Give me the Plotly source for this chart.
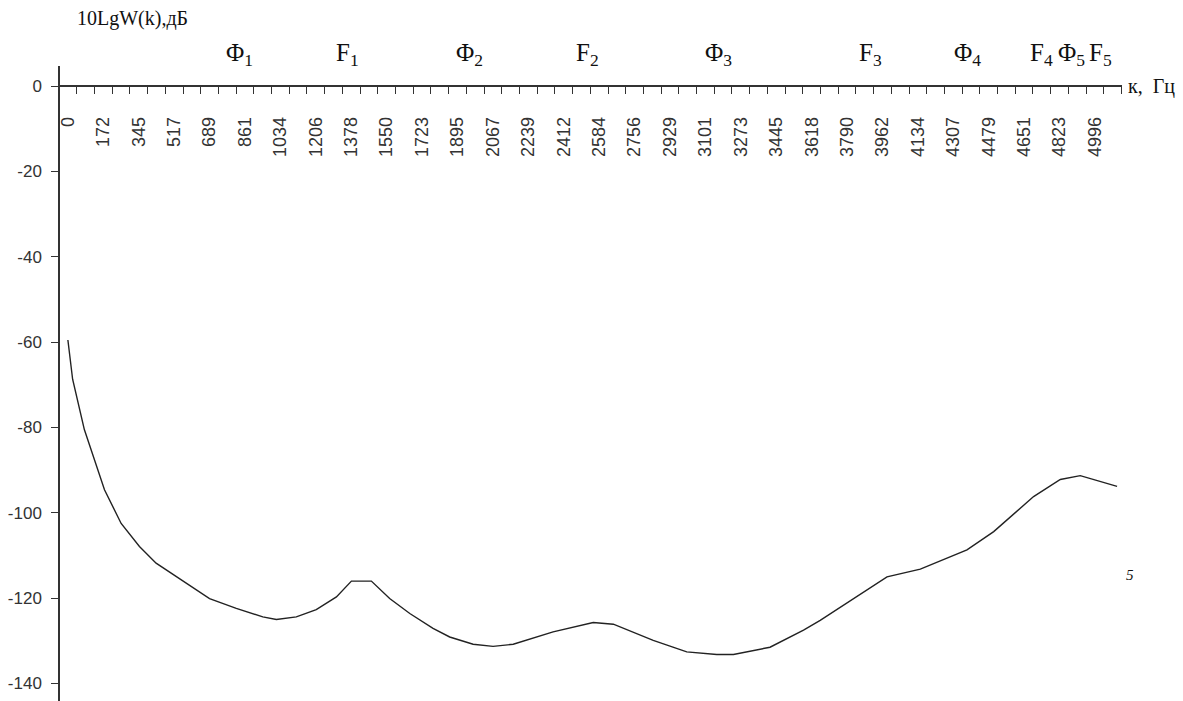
import plotly.graph_objects as go

# ---- data ----
freq_hz = [0, 23, 80, 178, 259, 348, 429, 527, 689, 819, 948, 1014, 1111, 1208, 1306,
           1379, 1476, 1565, 1663, 1776, 1857, 1971, 2068, 2166, 2360, 2555, 2653, 2847,
           3010, 3156, 3237, 3415, 3578, 3659, 3837, 3984, 4146, 4373, 4503, 4616, 4697,
           4827, 4924, 5103]
level_db = [-59.5, -68.7, -80.5, -94.6, -102.5, -107.9, -111.8, -115.0, -120.1, -122.4,
            -124.4, -125.0, -124.4, -122.7, -119.7, -116.0, -116.0, -120.1, -123.6, -127.1,
            -129.1, -130.8, -131.3, -130.8, -127.9, -125.7, -126.1, -129.9, -132.6, -133.2,
            -133.2, -131.5, -127.5, -125.2, -119.7, -115.0, -113.2, -108.7, -104.4, -99.7,
            -96.2, -92.2, -91.3, -93.8]

x_tick_labels = ["0", "172", "345", "517", "689", "861", "1034", "1206", "1378", "1550",
                 "1723", "1895", "2067", "2239", "2412", "2584", "2756", "2929", "3101",
                 "3273", "3445", "3618", "3790", "3962", "4134", "4307", "4479", "4651",
                 "4823", "4996"]
y_tick_labels = ["0", "-20", "-40", "-60", "-80", "-100", "-120", "-140"]

formant_names = ["Φ<sub>1</sub>", "F<sub>1</sub>", "Φ<sub>2</sub>", "F<sub>2</sub>",
                 "Φ<sub>3</sub>", "F<sub>3</sub>", "Φ<sub>4</sub>", "F<sub>4</sub>",
                 "Φ<sub>5</sub>", "F<sub>5</sub>"]
formant_hz = [835, 1361, 1955, 2529, 3162, 3902, 4377, 4735, 4881, 5022]

Y_MIN, Y_MAX = -144.1, 4.7
X_MIN, X_MAX = -38.4, 5127

fig = go.Figure()
fig.add_trace(go.Scatter(x=freq_hz, y=level_db, mode="lines",
                         line=dict(color="#222222", width=1.4), hoverinfo="skip"))

x_font = dict(family="Liberation Sans, Arial, sans-serif", size=18, color="#333333")
y_font = dict(family="Liberation Sans, Arial, sans-serif", size=17, color="#333333")
serif = "Liberation Serif, Times New Roman, serif"

fig.update_layout(
    width=1183, height=701,
    margin=dict(l=60, r=61, t=66, b=0),
    plot_bgcolor="white", paper_bgcolor="white",
    showlegend=False,
    xaxis=dict(
        range=[X_MIN, X_MAX],
        anchor="free",
        position=(0 - Y_MIN) / (Y_MAX - Y_MIN),
        side="bottom",
        automargin=False,
        showline=True, linecolor="#333333", linewidth=1.5,
        showgrid=False, zeroline=False,
        tickmode="array",
        tickvals=[float(t) for t in x_tick_labels],
        ticktext=x_tick_labels,
        tickangle=-90,
        ticks="outside", ticklen=7, tickcolor="rgba(0,0,0,0)",
        ticklabelstandoff=16,
        tickfont=x_font,
        minor=dict(ticks="outside", ticklen=7, tickcolor="#333333", tickwidth=1.2,
                   tickmode="linear", tick0=43.07, dtick=86.13, showgrid=False),
    ),
    yaxis=dict(
        range=[Y_MIN, Y_MAX],
        automargin=False,
        showline=True, linecolor="#333333", linewidth=1.5,
        showgrid=False, zeroline=False,
        tickmode="array",
        tickvals=[float(t) for t in y_tick_labels],
        ticktext=y_tick_labels,
        ticks="outside", ticklen=7, tickcolor="#333333", tickwidth=1.2,
        ticklabelstandoff=6,
        tickfont=y_font,
    ),
)

annotations = [
    dict(text="10LgW(k),дБ", xref="paper", yref="paper", x=0.014, y=1.0, yshift=48,
         xanchor="left", yanchor="middle", showarrow=False,
         font=dict(family=serif, size=20, color="#111111")),
    dict(text="к,\u00a0 Гц", xref="paper", yref="y", x=1.0, y=0, xshift=4,
         xanchor="left", yanchor="middle", showarrow=False,
         font=dict(family=serif, size=20, color="#111111")),
    dict(text="<i>5</i>", xref="paper", yref="y", x=1.0, y=-114.5, xshift=2,
         xanchor="left", yanchor="middle", showarrow=False,
         font=dict(family=serif, size=15, color="#111111")),
]
for name, hz in zip(formant_names, formant_hz):
    annotations.append(dict(text=name, xref="x", yref="paper", x=hz, y=1.0, yshift=12,
                            xanchor="center", yanchor="middle", showarrow=False,
                            font=dict(family=serif, size=25, color="#111111")))
fig.update_layout(annotations=annotations)

fig.write_html("out.html", config={"displayModeBar": False},
               post_script="document.body.style.margin='0px';")
